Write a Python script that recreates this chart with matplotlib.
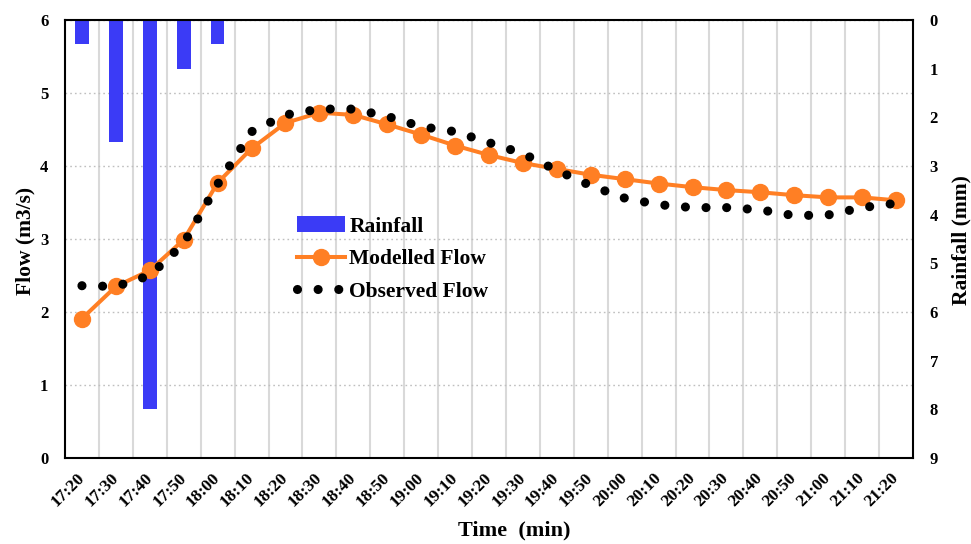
import numpy as np
import matplotlib
matplotlib.use("Agg")
import matplotlib.pyplot as plt

# ---- data -------------------------------------------------------------
times = ["17:20", "17:30", "17:40", "17:50", "18:00", "18:10", "18:20", "18:30",
         "18:40", "18:50", "19:00", "19:10", "19:20", "19:30", "19:40", "19:50",
         "20:00", "20:10", "20:20", "20:30", "20:40", "20:50", "21:00", "21:10",
         "21:20"]

rainfall_mm = [0.5, 2.5, 8.0, 1.0, 0.5, 0, 0, 0, 0, 0, 0, 0, 0, 0, 0, 0,
               0, 0, 0, 0, 0, 0, 0, 0, 0]

modelled_flow = [1.91, 2.35, 2.57, 2.99, 3.77, 4.24, 4.59, 4.73, 4.70, 4.57,
                 4.43, 4.28, 4.15, 4.04, 3.96, 3.88, 3.82, 3.76, 3.71, 3.67,
                 3.64, 3.60, 3.57, 3.57, 3.53]

observed_flow = [2.36, 2.35, 2.50, 2.94, 3.75, 4.47, 4.70, 4.78, 4.78, 4.68,
                 4.54, 4.47, 4.32, 4.17, 3.94, 3.73, 3.56, 3.47, 3.43, 3.43,
                 3.40, 3.32, 3.33, 3.43, 3.49]

flow_ticks = [0, 1, 2, 3, 4, 5, 6]
rain_ticks = [0, 1, 2, 3, 4, 5, 6, 7, 8, 9]

# ---- style ------------------------------------------------------------
FONT = "Liberation Serif"
BLUE = "#3B3BF6"
ORANGE = "#FF7F24"
plt.rcParams["font.family"] = FONT
plt.rcParams["font.weight"] = "bold"

W, H = 971, 544
fig = plt.figure(figsize=(W / 100, H / 100), dpi=100)
L, R, T, B = 65, 913, 20, 458
rect = [L / W, 1 - B / H, (R - L) / W, (B - T) / H]

ax = fig.add_axes(rect)        # flow scale, grid and tick labels
ax_rain = ax.twinx()           # rainfall bars, inverted scale
ax_top = ax.twinx()            # flow lines drawn above the bars

x = np.arange(len(times))

# grid on the base axes
ax.set_xlim(-0.5, len(times) - 0.5)
ax.set_ylim(0, 6)
ax.set_yticks(flow_ticks)
ax.set_xticks(x)
ax.set_xticklabels(times, rotation=45, ha="right", va="center",
                   rotation_mode="anchor", fontsize=12.5, fontweight="bold")
ax.set_xticks(np.arange(0.5, len(times) - 1, 1), minor=True)
ax.grid(which="minor", axis="x", color="#D9D9D9", lw=1.5)
ax.grid(which="major", axis="y", color="#BFBFBF", lw=1.0,
        linestyle=(0, (1.2, 2.2)))
ax.tick_params(axis="x", which="both", length=0, pad=12.5)
ax.tick_params(axis="y", length=0, pad=12, labelsize=12)
for lbl in ax.get_yticklabels():
    lbl.set_fontweight("bold")
for s in ax.spines.values():
    s.set_visible(False)

# rainfall bars
bars = ax_rain.bar(x, rainfall_mm, width=0.4, color=BLUE, zorder=2,
                   label="Rainfall")
ax_rain.set_ylim(9, 0)
ax_rain.set_yticks(rain_ticks)
ax_rain.tick_params(axis="y", length=0, pad=12, labelsize=12)
for lbl in ax_rain.get_yticklabels():
    lbl.set_fontweight("bold")
for s in ax_rain.spines.values():
    s.set_visible(False)

# flow series
ax_top.set_ylim(0, 6)
ax_top.yaxis.set_visible(False)
mod_line, = ax_top.plot(x, modelled_flow, color=ORANGE, lw=2.9, marker="o",
                        ms=11.5, label="Modelled Flow", zorder=3)
obs_line, = ax_top.plot(x, observed_flow, color="black", lw=6.6,
                        linestyle=(0, (0.001, 2.25)), dash_capstyle="round",
                        label="Observed Flow", zorder=4)
for s in ax_top.spines.values():
    s.set_visible(True)
    s.set_color("black")
    s.set_linewidth(1.5)

leg = ax_top.legend([bars, mod_line, obs_line],
                    ["Rainfall", "Modelled Flow", "Observed Flow"],
                    loc="upper left", bbox_to_anchor=(297 / W, 1 - 216 / H),
                    bbox_transform=fig.transFigure, frameon=False,
                    borderpad=0, borderaxespad=0, handlelength=2.25,
                    handleheight=0.8, handletextpad=0.18, labelspacing=0.56,
                    numpoints=1, prop={"family": FONT, "weight": "bold",
                                       "size": 15.5})

# axis titles
fig.text(25 / W, 1 - 241 / H, "Flow (m3/s)", rotation=90, ha="center",
         va="center", fontsize=15.5, fontweight="bold")
fig.text(961 / W, 1 - 240 / H, "Rainfall (mm)", rotation=90, ha="center",
         va="center", fontsize=15.5, fontweight="bold")
fig.text(514 / W, 1 - 530 / H, "Time  (min)", ha="center", va="center",
         fontsize=16, fontweight="bold")

fig.savefig("out.png", dpi=100)
